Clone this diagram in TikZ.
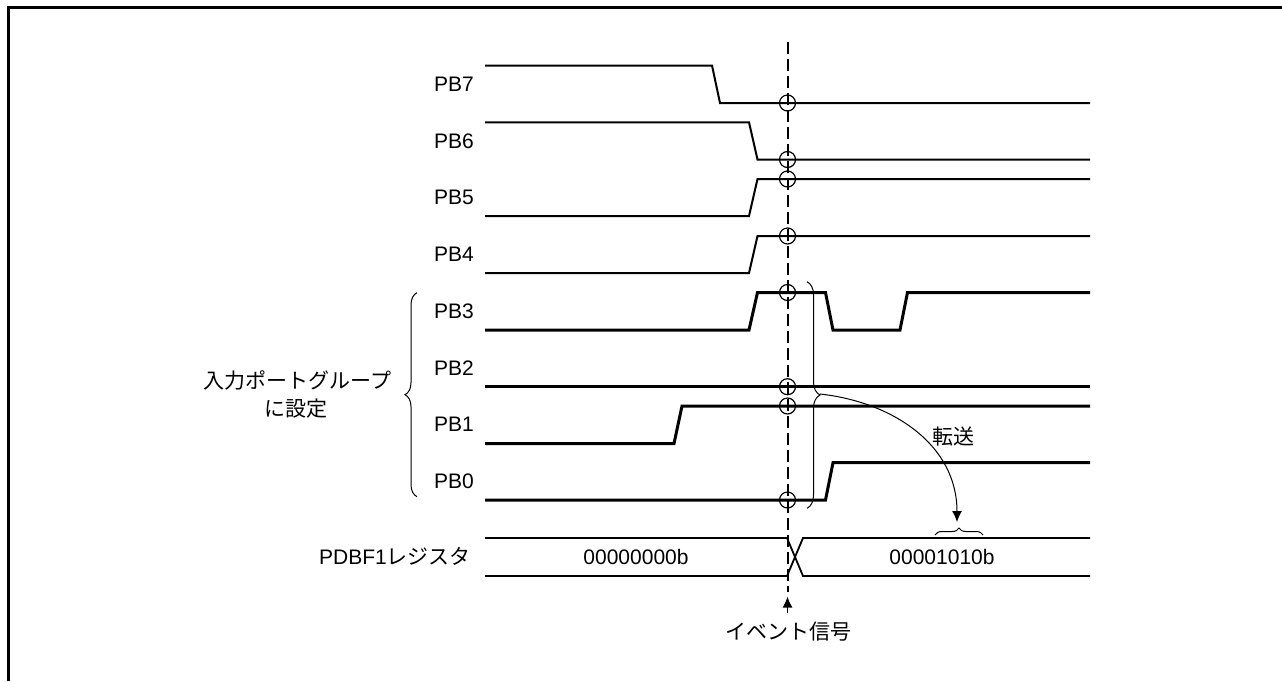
\documentclass[tikz,border=0pt]{standalone}
\usepackage{fontspec}
\setmainfont{Liberation Sans}
\newfontfamily\jp{Noto Sans CJK JP}
\usetikzlibrary{arrows.meta,decorations.pathreplacing}
\begin{document}
\begin{tikzpicture}[x=1pt,y=-1pt,
  lbl/.style={font=\fontsize{21}{25}\selectfont, inner sep=0pt},
  jlbl/.style={font=\fontsize{21}{25}\selectfont\jp, inner sep=0pt},
  thinsig/.style={line width=2pt, line join=miter},
  thicksig/.style={line width=3pt, line join=miter},
  probe/.style={circle, draw, line width=1.2pt, minimum size=16pt, inner sep=0pt},
  busline/.style={line width=1.8pt},
  brc/.style={decorate, decoration={brace, amplitude=#1}, line width=1pt},
  brc/.default=12pt,
  evline/.style={line width=2pt, dash pattern=on 12pt off 5pt},
]
\useasboundingbox (0,0) rectangle (1282,681);
\draw[line width=3.3pt] (8.3,681) |- (1282,7.3);

% signals
\draw[thinsig] (485,65.5) -- (712,65.5) -- (720,103) -- (1090,103);
\draw[thinsig] (485,122.3) -- (749,122.3) -- (757.5,159.5) -- (1090,159.5);
\draw[thinsig] (485,216) -- (749,216) -- (757.5,179) -- (1090,179);
\draw[thinsig] (485,273) -- (749,273) -- (757.5,236) -- (1090,236);
\draw[thicksig] (485,330) -- (749,330) -- (757.5,292.5) -- (825.5,292.5) -- (833,330) -- (900,330) -- (907.5,292.5) -- (1090,292.5);
\draw[thicksig] (485,386.7) -- (1090,386.7);
\draw[thicksig] (485,443.5) -- (674,443.5) -- (682,406) -- (1090,406);
\draw[thicksig] (485,500) -- (825.5,500) -- (833,462.7) -- (1090,462.7);

% labels
\node[lbl, anchor=east] (pb7) at (474,84.25) {PB7};
\node[lbl, anchor=east] (pb6) at (474,141) {PB6};
\node[lbl, anchor=east] (pb5) at (474,197.5) {PB5};
\node[lbl, anchor=east] (pb4) at (474,254.5) {PB4};
\node[lbl, anchor=east] (pb3) at (474,311.2) {PB3};
\node[lbl, anchor=east] (pb2) at (474,368) {PB2};
\node[lbl, anchor=east] (pb1) at (474,424.7) {PB1};
\node[lbl, anchor=east] (pb0) at (474,481.3) {PB0};

% bus
\draw[busline] (485,538) -- (787,538) -- (803,576) -- (1090,576);
\draw[busline] (485,576) -- (787,576) -- (803,538) -- (1090,538);
\node[lbl] (v0) at (636,557) {00000000b};
\node[lbl] (v1) at (942,557) {00001010b};
\node[lbl, anchor=east] (reg) at (471,556) {PDBF1{\jp レジスタ}};

% event line
\draw[evline] (787.5,42) -- (787.5,592);
\coordinate (evbase) at (787.5,613);
\coordinate (evtip) at (787.5,596.5);
\draw[line width=1.5pt, -{Latex[length=11pt,width=10pt]}] (evbase) -- (evtip);
\node[jlbl] (ev) at (788,631.5) {イベント信号};

% probes
\node[probe] (c7) at (787.5,103) {};
\node[probe] (c6) at (787.5,159.5) {};
\node[probe] (c5) at (787.5,179) {};
\node[probe] (c4) at (787.5,236) {};
\node[probe] (c3) at (787.5,292.5) {};
\node[probe] (c2) at (787.5,386.7) {};
\node[probe] (c1) at (787.5,406) {};
\node[probe] (c0) at (787.5,500) {};

% braces
\draw[brc=12pt] (417,496.7) -- (417,292.7);
\node[jlbl] (grp1) at (297.5,380) {入力ポートグループ};
\node[jlbl] (grp2) at (296,409) {に設定};
\draw[brc=13pt] (807,281.7) -- (807,508.3);
\draw[brc=7pt] (935,535) -- (983,535);

% transfer arrow
\coordinate (rbt) at (820,394);
\coordinate (bbt) at (957,522);
\draw[line width=1pt, -{Latex[length=11pt,width=10pt]}] (rbt) .. controls (893,402) and (957,445) .. (bbt);
\node[jlbl] (xfer) at (953,437) {転送};
\end{tikzpicture}
\end{document}
